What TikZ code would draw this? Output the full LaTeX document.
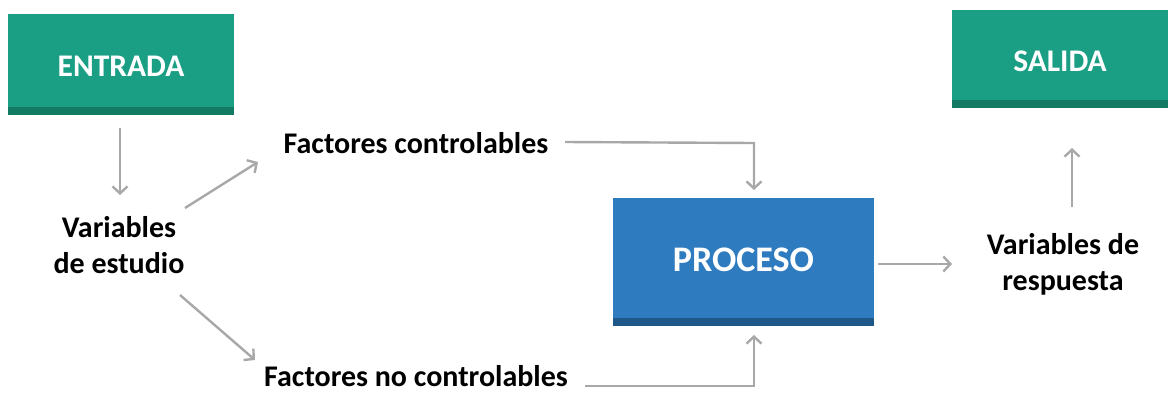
\documentclass[tikz,border=0pt]{standalone}
\usepackage{fontspec}
\setmainfont{Carlito}
\usetikzlibrary{arrows.meta}
\definecolor{tealbox}{HTML}{1A9E84}
\definecolor{tealdark}{HTML}{137A64}
\definecolor{bluebox}{HTML}{2E7BBF}
\definecolor{bluedark}{HTML}{1E5888}
\definecolor{arrowgray}{HTML}{A8A8A8}
\tikzset{
  box/.style={draw=none, minimum width=#1, inner sep=0pt, text=white, font=\bfseries\fontsize{31.5}{36}\selectfont},
  lbl/.style={align=center, inner sep=0pt, font=\bfseries\fontsize{30}{36}\selectfont},
  arr/.style={draw=arrowgray, line width=2.4pt, -{Straight Barb[length=7pt,width=15pt,line width=2.4pt]}},
}
\begin{document}
\begin{tikzpicture}[x=1pt,y=-1pt]
\useasboundingbox (0,0) rectangle (1170,394);
% boxes
\fill[tealbox] (8,14) rectangle (234,107);
\fill[tealdark] (8,107) rectangle (234,115);
\node[box=226pt] (entrada) at (121,66) {ENTRADA};
\fill[tealbox] (952,10) rectangle (1168,100);
\fill[tealdark] (952,100) rectangle (1168,108);
\node[box=216pt] (salida) at (1060,61) {SALIDA};
\fill[bluebox] (613,198) rectangle (874,318);
\fill[bluedark] (613,318) rectangle (874,326);
\node[box=261pt, font=\bfseries\fontsize{36}{40}\selectfont] (proceso) at (743.5,260) {PROCESO};
% anchors
\coordinate (entS) at (120,128);
\coordinate (salS) at (1072,148);
\coordinate (proT) at (754,190);
\coordinate (proB) at (754,335);
\coordinate (proR) at (878,264);
% labels
\node[lbl] (var) at (119,245) {Variables\\de estudio};
\node[lbl] (fc) at (416,143) {Factores controlables};
\node[lbl] (fnc) at (416,376) {Factores no controlables};
\node[lbl] (resp) at (1063,264) {Variables de\\respuesta};
% arrows
\draw[arr] (entS) -- (120,195);
\draw[arr] (185,208) -- (258,162);
\draw[arr] (180,295) -- (255,360);
\draw[arr] (565,142) -- (754,143) -- (proT);
\draw[arr] (585,386) -- (754,386) -- (proB);
\draw[arr] (proR) -- (952,264);
\draw[arr] (1072,207) -- (salS);
\end{tikzpicture}
\end{document}
